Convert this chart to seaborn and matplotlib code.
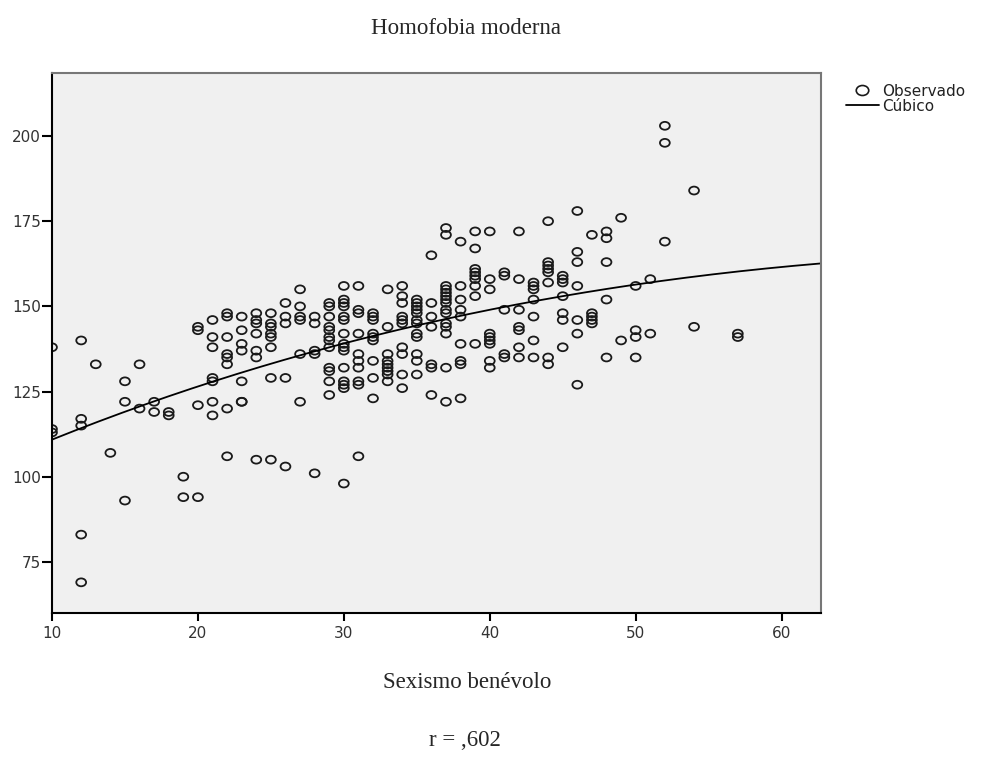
import matplotlib
matplotlib.use("Agg")
import matplotlib.pyplot as plt
import numpy as np
import seaborn as sns
from matplotlib.lines import Line2D
from matplotlib.path import Path

# Sexismo benévolo (x) and Homofobia moderna (y), one line per x value
sexismo_benevolo = (
    [10] * 3 + [12] * 5 + [13] + [14] + [15] * 3 + [16] * 2 + [17] * 2 + [18] * 2
    + [19] * 2 + [20] * 4 + [21] * 7 + [22] * 8 + [23] * 7 + [24] * 7 + [25] * 8
    + [26] * 5 + [27] * 6 + [28] * 5 + [29] * 12 + [30] * 15 + [31] * 10 + [32] * 9
    + [33] * 9 + [34] * 10 + [35] * 12 + [36] * 7 + [37] * 15 + [38] * 9 + [39] * 9
    + [40] * 9 + [41] * 5 + [42] * 7 + [43] * 7 + [44] * 8 + [45] * 7 + [46] * 7
    + [47] * 5 + [48] * 5 + [49] * 2 + [50] * 4 + [51] * 2 + [52] * 3 + [54] * 2
    + [57] * 2
)
homofobia_moderna = [
    138, 114, 113,
    140, 117, 115, 83, 69,
    133,
    107,
    128, 122, 93,
    133, 120,
    122, 119,
    119, 118,
    100, 94,
    144, 143, 121, 94,
    146, 141, 138, 129, 128, 122, 118,
    148, 147, 141, 136, 135, 133, 120, 106,
    147, 143, 139, 137, 128, 122, 122,
    148, 146, 145, 142, 137, 135, 105,
    148, 145, 144, 142, 141, 138, 129, 105,
    151, 147, 145, 129, 103,
    155, 150, 147, 146, 136, 122,
    147, 145, 137, 136, 101,
    151, 150, 147, 144, 143, 141, 140, 138, 132, 131, 128, 124,
    156, 152, 151, 150, 147, 146, 142, 139, 138, 137, 132, 128, 127, 126, 98,
    156, 149, 148, 142, 136, 134, 132, 128, 127, 106,
    148, 147, 146, 142, 141, 140, 134, 129, 123,
    155, 144, 136, 134, 133, 132, 131, 130, 128,
    156, 153, 151, 147, 146, 145, 138, 136, 130, 126,
    152, 151, 150, 149, 148, 146, 145, 142, 141, 136, 134, 130,
    165, 151, 147, 144, 133, 132, 124,
    173, 171, 156, 155, 154, 153, 152, 151, 149, 148, 145, 144, 142, 132, 122,
    169, 156, 152, 149, 147, 139, 134, 133, 123,
    172, 167, 161, 160, 159, 158, 156, 153, 139,
    172, 158, 155, 142, 141, 140, 139, 134, 132,
    160, 159, 149, 136, 135,
    172, 158, 149, 144, 143, 138, 135,
    157, 156, 155, 152, 147, 140, 135,
    175, 163, 162, 161, 160, 157, 135, 133,
    159, 158, 157, 153, 148, 146, 138,
    178, 166, 163, 156, 146, 142, 127,
    171, 148, 147, 146, 145,
    172, 170, 163, 152, 135,
    176, 140,
    156, 143, 141, 135,
    158, 142,
    203, 198, 169,
    184, 144,
    142, 141,
]

x_ticks = [10, 20, 30, 40, 50, 60]
y_ticks = [75, 100, 125, 150, 175, 200]
legend_labels = ["Observado", "Cúbico"]

sns.set_style("ticks")
plt.rcParams["font.family"] = ["DejaVu Sans"]

x = np.array(sexismo_benevolo, dtype=float)
y = np.array(homofobia_moderna, dtype=float)

# cubic fit, like the SPSS curve estimation
coefs = np.polyfit(x, y, 3)
x_lim = (10, 62.7)
x_fit = np.linspace(x_lim[0], x_lim[1], 200)
y_fit = np.polyval(coefs, x_fit)

# slightly flattened open circle, as drawn by SPSS
circle = Path.unit_circle()
ellipse = Path(circle.vertices * [1.0, 0.8], circle.codes)

fig = plt.figure(figsize=(9.82, 7.78), dpi=100)
ax = fig.add_axes([52 / 982, 1 - 613 / 778, (821 - 52) / 982, (613 - 73) / 778])
ax.set_facecolor("#f0f0f0")

sns.scatterplot(x=x, y=y, ax=ax, marker=ellipse, s=50, facecolors="none",
                edgecolor="#1a1a1a", linewidth=1.3, legend=False)
sns.lineplot(x=x_fit, y=y_fit, ax=ax, color="black", linewidth=1.3,
             legend=False)

ax.set_xlim(*x_lim)
ax.set_ylim(60, 218.5)
ax.set_xticks(x_ticks)
ax.set_yticks(y_ticks)
ax.set_xlabel("")
ax.set_ylabel("")
ax.tick_params(axis="both", direction="out", labelcolor="#333333",
               labelsize=11, width=1.5, color="black")
ax.tick_params(axis="x", length=6, pad=3)
ax.tick_params(axis="y", length=7, pad=1)
for side in ["left", "bottom"]:
    ax.spines[side].set_color("black")
    ax.spines[side].set_linewidth(1.5)
for side in ["top", "right"]:
    ax.spines[side].set_color("#777777")
    ax.spines[side].set_linewidth(1.5)

handles = [
    Line2D([], [], marker=ellipse, linestyle="none", markersize=9,
           markerfacecolor="none", markeredgecolor="#1a1a1a",
           markeredgewidth=1.2),
    Line2D([], [], color="black", linewidth=1.3),
]
fig.legend(handles, legend_labels, loc="upper left",
           bbox_to_anchor=(838 / 982, 1 - 76 / 778), frameon=False,
           fontsize=11, handlelength=2.2, handletextpad=0.2,
           labelspacing=0.0, borderpad=0, labelcolor="#222222")

serif = ["Liberation Serif", "DejaVu Serif"]
fig.text(466 / 982, 1 - 29 / 778, "Homofobia moderna", ha="center",
         va="center", fontsize=16.5, family=serif)
fig.text(467 / 982, 1 - 683 / 778, "Sexismo benévolo", ha="center",
         va="center", fontsize=16.5, family=serif)
fig.text(465 / 982, 1 - 740 / 778, "r = ,602", ha="center", va="center",
         fontsize=16.5, family=serif)

fig.savefig("out.png", dpi=100)
plt.close(fig)
